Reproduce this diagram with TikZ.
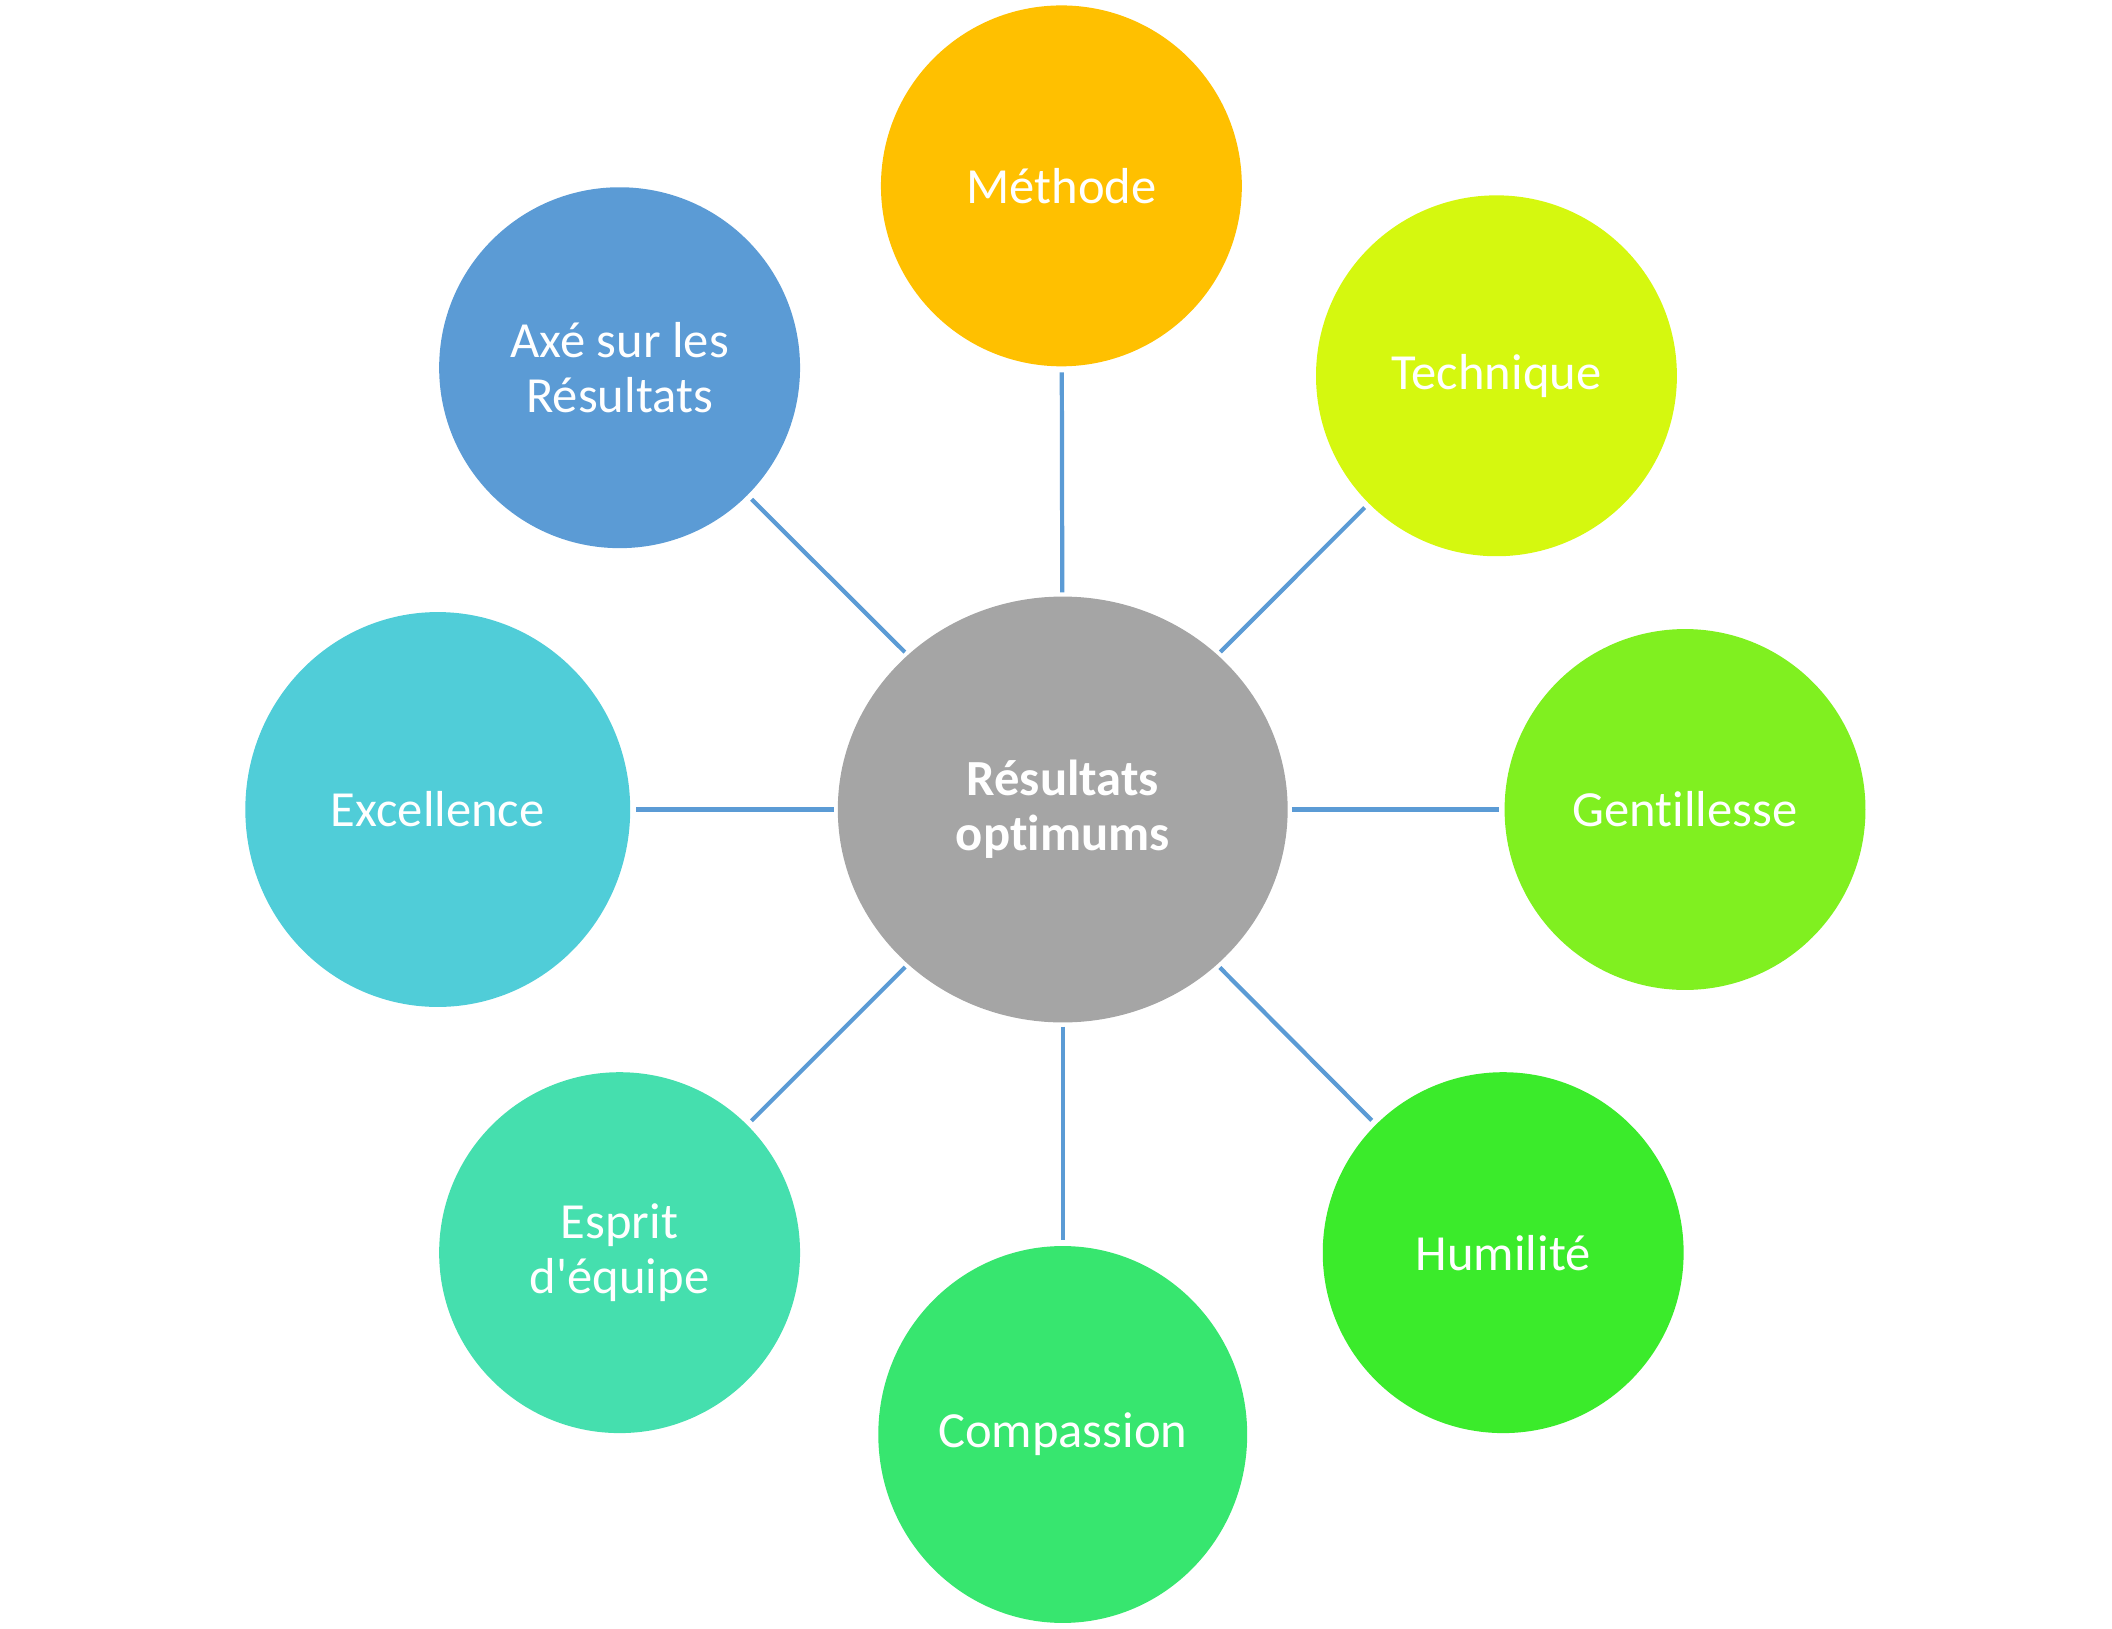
\documentclass[tikz,border=0pt]{standalone}
\usepackage{fontspec}
\setmainfont{Carlito}[Ligatures={TeX,NoCommon}]
\usetikzlibrary{shapes.geometric}
\definecolor{cMeth}{HTML}{FFC000}
\definecolor{cTech}{HTML}{D5F80F}
\definecolor{cGent}{HTML}{80F020}
\definecolor{cHum}{HTML}{3BEB2B}
\definecolor{cComp}{HTML}{37E66F}
\definecolor{cEsp}{HTML}{45DFAE}
\definecolor{cExc}{HTML}{50CDD8}
\definecolor{cAxe}{HTML}{5B9BD5}
\definecolor{cCen}{HTML}{A5A5A5}
\definecolor{cLine}{HTML}{5B9BD5}
\tikzset{
  bubble/.style={circle, minimum size=3.61cm, inner sep=0pt, text=white, align=center, font=\fontsize{14.4}{15.7}\selectfont},
  oval/.style={ellipse, inner sep=0pt, text=white, align=center, font=\fontsize{14.4}{15.7}\selectfont},
  link/.style={draw=cLine, line width=1.2pt, shorten >=1.5pt, shorten <=1pt}
}
\begin{document}
\begin{tikzpicture}[x=0.0134693cm, y=-0.0134693cm]
\useasboundingbox (0,0) rectangle (1568,1209);
\node[oval, fill=cCen, minimum width=4.50cm, minimum height=4.26cm, font=\fontsize{14.4}{15.7}\selectfont\bfseries] (c) at (789,601) {Résultats\\optimums};
\node[bubble, fill=cMeth] (meth) at (788,138) {Méthode};
\node[bubble, fill=cTech] (tech) at (1111,279) {Technique};
\node[bubble, fill=cGent] (gent) at (1251,601) {Gentillesse};
\node[bubble, fill=cHum] (hum) at (1116,930) {Humilité};
\node[oval, fill=cComp, minimum width=3.69cm, minimum height=3.77cm] (comp) at (789,1065) {Compassion};
\node[bubble, fill=cEsp] (esp) at (460,930) {Esprit\\d\textquotesingle équipe};
\node[oval, fill=cExc, minimum width=3.85cm, minimum height=3.95cm] (exc) at (325,601) {Excellence};
\node[bubble, fill=cAxe] (axe) at (460,273) {Axé sur les\\Résultats};
\draw[link] (c) -- (meth);
\draw[link] (c) -- (tech);
\draw[link] (c) -- (gent);
\draw[link] (c) -- (hum);
\draw[link] (c) -- (comp);
\draw[link] (c) -- (esp);
\draw[link] (c) -- (exc);
\draw[link] (c) -- (axe);
\end{tikzpicture}
\end{document}
